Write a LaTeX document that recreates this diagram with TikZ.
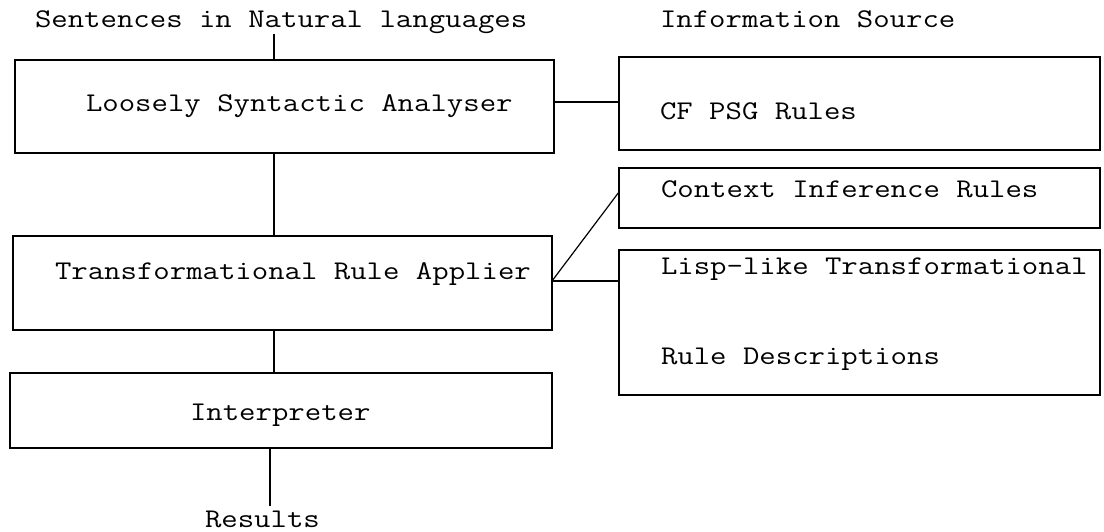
\documentclass[tikz,border=0pt]{standalone}
\usepackage{fontspec}
\newfontfamily\tw{Latin Modern Mono}[FakeStretch=1.18]
\tikzset{
  box/.style={draw, line width=1.2pt, rectangle, inner sep=0pt, outer sep=0pt, anchor=north west},
  txt/.style={inner sep=0pt, outer sep=0pt, anchor=base west, font=\tw\fontsize{27}{32}\selectfont},
  conn/.style={line width=1.2pt},
}
\begin{document}
\begin{tikzpicture}[x=1pt,y=-1pt]
\useasboundingbox (0,0) rectangle (1104,532);
% headers
\node[txt] (h1) at (35,28) {Sentences in Natural languages};
\node[txt] (h2) at (660,28) {Information Source};
% left column
\node[box, minimum width=539pt, minimum height=93pt] (b1) at (15,60) {};
\node[txt] (t1) at (86,112) {Loosely Syntactic Analyser};
\node[box, minimum width=539pt, minimum height=94pt] (b2) at (13,236) {};
\node[txt] (t2) at (55,279) {Transformational Rule Applier};
\node[box, minimum width=542pt, minimum height=75pt] (b3) at (10,373) {};
\node[txt] (t3) at (190,420) {Interpreter};
\node[txt] (res) at (205,527) {Results};
% right column
\node[box, minimum width=481pt, minimum height=93pt] (r1) at (619,57) {};
\node[txt] (u1) at (660,120) {CF PSG Rules};
\node[box, minimum width=481pt, minimum height=60pt] (r2) at (619,168) {};
\node[txt] (u2) at (661,197) {Context Inference Rules};
\node[box, minimum width=481pt, minimum height=145pt] (r3) at (619,250) {};
\node[txt] (u3) at (661,274) {Lisp-like Transformational};
\node[txt] (u4) at (661,364) {Rule Descriptions};
% connectors
\coordinate (in) at (274,34);
\coordinate (out) at (270,506);
\coordinate (j1) at (0,102);
\coordinate (j2) at (0,281);
\draw[conn] (in) -- (in |- b1.north);
\draw[conn] (b1.south -| in) -- (b2.north -| in);
\draw[conn] (b2.south -| in) -- (b3.north -| in);
\draw[conn] (b3.south -| out) -- (out);
\draw[conn] (b1.east |- j1) -- (r1.west |- j1);
\draw[conn] (b2.east |- j2) -- (r3.west |- j2);
\draw[conn] (b2.east |- j2) -- ([yshift=6pt]r2.west);
\end{tikzpicture}
\end{document}
